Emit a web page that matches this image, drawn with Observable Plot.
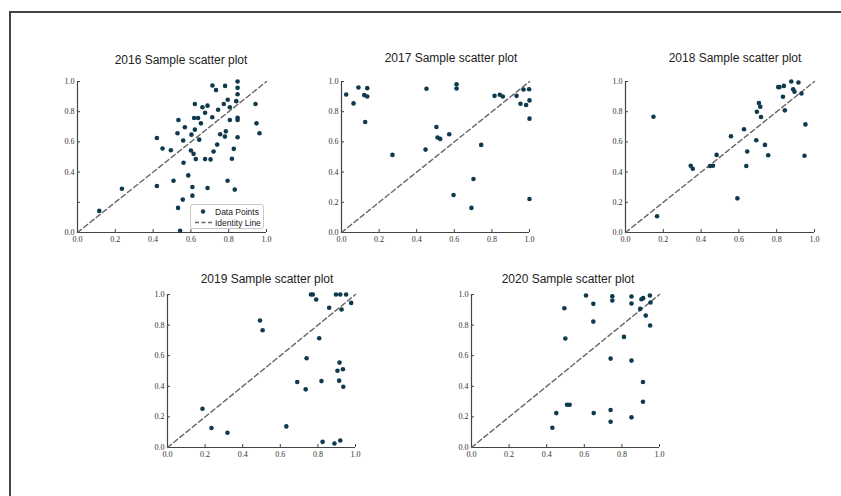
<!DOCTYPE html>
<html>
<head>
<meta charset="utf-8">
<script src="https://cdn.jsdelivr.net/npm/d3@7"></script>
<script src="https://cdn.jsdelivr.net/npm/@observablehq/plot@0.6"></script>
<style>
  html, body { margin: 0; padding: 0; background: #fff; }
  #root { position: relative; width: 841px; height: 496px; overflow: hidden; background: #fff; }
  #frame { position: absolute; left: 9px; top: 11px; width: 1000px; height: 700px;
           border-top: 2px solid #444; border-left: 2px solid #444; }
  .panel { position: absolute; }
  .title { position: absolute; transform: translateX(-50%); white-space: nowrap;
           font-family: "Liberation Sans", Arial, sans-serif; font-size: 12px; color: #222; }
  .legend { position: absolute; border: 1px solid #c8c8c8; border-radius: 3px; background: #fff;
            font-family: "Liberation Sans", Arial, sans-serif; font-size: 8.5px; color: #222;
            white-space: nowrap; box-sizing: border-box; padding: 1px 0 0 2px; }
  .legend .row { display: flex; align-items: center; height: 11px; }
  .legend svg { display: block; flex: none; }
</style>
</head>
<body>
<div id="root"><div id="frame"></div></div>
<script>
// ---- data ----
const years = ["2016", "2017", "2018", "2019", "2020"];
const titles = ["2016 Sample scatter plot", "2017 Sample scatter plot", "2018 Sample scatter plot",
                "2019 Sample scatter plot", "2020 Sample scatter plot"];
const tickValues = [0, 0.2, 0.4, 0.6, 0.8, 1.0];
const identity = [0, 1];
const legendLabels = ["Data Points", "Identity Line"];

const x2016 = [0.115,0.235,0.42,0.42,0.45,0.494,0.508,0.529,0.534,0.532,0.543,0.557,0.561,0.559,0.568,0.586,0.6,0.603,0.614,0.608,0.608,0.621,0.617,0.621,0.638,0.626,0.644,0.653,0.661,0.675,0.675,0.688,0.688,0.704,0.713,0.714,0.72,0.733,0.739,0.744,0.755,0.774,0.78,0.785,0.781,0.795,0.794,0.806,0.806,0.817,0.827,0.832,0.84,0.847,0.847,0.847,0.847,0.847,0.847,0.942,0.947,0.963];
const y2016 = [0.143,0.29,0.626,0.308,0.556,0.545,0.343,0.657,0.745,0.163,0.011,0.218,0.462,0.609,0.697,0.378,0.543,0.648,0.521,0.301,0.244,0.681,0.758,0.851,0.758,0.486,0.615,0.723,0.829,0.793,0.486,0.84,0.295,0.484,0.763,0.974,0.536,0.943,0.582,0.813,0.651,0.851,0.635,0.67,0.971,0.879,0.343,0.745,0.829,0.488,0.554,0.284,0.87,1.0,0.958,0.916,0.76,0.745,0.631,0.851,0.723,0.657];

const x2017 = [0.025,0.064,0.09,0.121,0.137,0.137,0.126,0.271,0.447,0.452,0.505,0.511,0.525,0.573,0.596,0.612,0.612,0.691,0.702,0.743,0.814,0.842,0.858,0.931,0.952,0.968,0.982,0.998,1.0,1.0,1.0];
const y2017 = [0.914,0.855,0.96,0.91,0.901,0.956,0.732,0.514,0.549,0.952,0.699,0.629,0.62,0.651,0.248,0.982,0.954,0.163,0.354,0.58,0.905,0.912,0.901,0.905,0.853,0.947,0.844,0.949,0.875,0.754,0.222];

const x2018 = [0.148,0.167,0.345,0.356,0.447,0.463,0.482,0.558,0.592,0.627,0.639,0.644,0.692,0.695,0.706,0.713,0.717,0.738,0.755,0.808,0.815,0.833,0.838,0.843,0.877,0.887,0.894,0.915,0.931,0.947,0.952];
const y2018 = [0.767,0.108,0.442,0.422,0.44,0.442,0.514,0.637,0.226,0.684,0.44,0.536,0.611,0.8,0.857,0.833,0.765,0.58,0.512,0.963,0.963,0.899,0.971,0.809,1.0,0.949,0.932,0.993,0.921,0.508,0.716];

const x2019 = [0.186,0.234,0.319,0.492,0.506,0.632,0.69,0.735,0.74,0.763,0.773,0.791,0.807,0.819,0.825,0.86,0.888,0.896,0.904,0.915,0.913,0.919,0.919,0.926,0.933,0.935,0.95,0.977];
const y2019 = [0.253,0.127,0.096,0.83,0.766,0.138,0.428,0.38,0.583,1.0,1.0,0.967,0.714,0.434,0.037,0.913,0.026,1.0,0.502,0.555,0.437,1.0,0.046,0.902,0.511,0.397,1.0,0.945];

const x2020 = [0.43,0.451,0.494,0.499,0.508,0.522,0.609,0.648,0.648,0.65,0.74,0.74,0.74,0.749,0.749,0.811,0.851,0.851,0.851,0.851,0.897,0.904,0.913,0.912,0.912,0.927,0.949,0.952,0.95];
const y2020 = [0.129,0.225,0.91,0.712,0.279,0.279,0.993,0.939,0.823,0.225,0.581,0.245,0.168,0.989,0.961,0.723,0.987,0.941,0.568,0.197,0.906,0.969,0.976,0.428,0.299,0.862,0.993,0.948,0.797];

const xs = [x2016, x2017, x2018, x2019, x2020];
const ys = [y2016, y2017, y2018, y2019, y2020];

// ---- layout (pixel geometry of each panel's plotting area) ----
const boxes = [
  {x0: 77,  x1: 266, yTop: 81,  yBot: 232, tx: 181, ty: 53},
  {x0: 341, x1: 529, yTop: 81,  yBot: 232, tx: 451, ty: 51},
  {x0: 625, x1: 814, yTop: 81,  yBot: 232, tx: 735, ty: 51},
  {x0: 167, x1: 355, yTop: 294, yBot: 447, tx: 267, ty: 272},
  {x0: 471, x1: 659, yTop: 294, yBot: 447, tx: 568, ty: 272}
];
const mL = 26, mR = 10, mT = 6, mB = 16;
const dotColor = "#0f3a4e";
const axisColor = "#444";
const root = document.getElementById("root");

years.forEach((yr, i) => {
  const b = boxes[i];
  const data = xs[i].map((x, j) => ({x, y: ys[i][j]}));
  const yFmt = (d) => (i === 0 && Math.abs(d - 0.2) < 1e-9) ? "" : d3.format(".1f")(d);
  const chart = Plot.plot({
    width: mL + (b.x1 - b.x0) + mR,
    height: mT + (b.yBot - b.yTop) + mB,
    marginLeft: mL, marginRight: mR, marginTop: mT, marginBottom: mB,
    x: {domain: [0, 1]},
    y: {domain: [0, 1]},
    style: {fontFamily: "'Liberation Serif', 'Times New Roman', serif", fontSize: "8px",
            color: "#333", background: "transparent", overflow: "visible"},
    marks: [
      Plot.axisX({ticks: tickValues, tickFormat: d3.format(".1f"), tickSize: -3, tickPadding: 7,
                  stroke: axisColor, fill: "#333", label: null}),
      Plot.axisY({ticks: tickValues, tickFormat: yFmt, tickSize: -3, tickPadding: 6,
                  stroke: axisColor, fill: "#333", label: null}),
      Plot.ruleY([0], {stroke: axisColor, strokeWidth: 1.2}),
      Plot.ruleX([0], {stroke: axisColor, strokeWidth: 1.2}),
      Plot.line(identity, {x: d => d, y: d => d, stroke: "#666", strokeWidth: 1.4,
                           strokeDasharray: "5,3"}),
      Plot.dot(data, {x: "x", y: "y", r: 2.3, fill: dotColor, stroke: "none"})
    ]
  });
  chart.classList.add("panel");
  chart.style.left = (b.x0 - mL) + "px";
  chart.style.top = (b.yTop - mT) + "px";
  root.appendChild(chart);

  const t = document.createElement("div");
  t.className = "title";
  t.style.left = b.tx + "px";
  t.style.top = b.ty + "px";
  t.textContent = titles[i];
  root.appendChild(t);
});

// legend in the first panel
const lg = document.createElement("div");
lg.className = "legend";
lg.style.left = "190px"; lg.style.top = "204px";
lg.style.width = "74px"; lg.style.height = "25px";
lg.innerHTML = `
  <div class="row"><svg width="20" height="11"><circle cx="10" cy="5.5" r="2.2" fill="${dotColor}"/></svg><span style="margin-left:2px">${legendLabels[0]}</span></div>
  <div class="row"><svg width="20" height="11"><line x1="2" y1="5.5" x2="19" y2="5.5" stroke="#666" stroke-width="1.3" stroke-dasharray="4,2.5"/></svg><span style="margin-left:2px">${legendLabels[1]}</span></div>`;
root.appendChild(lg);
</script>
</body>
</html>
